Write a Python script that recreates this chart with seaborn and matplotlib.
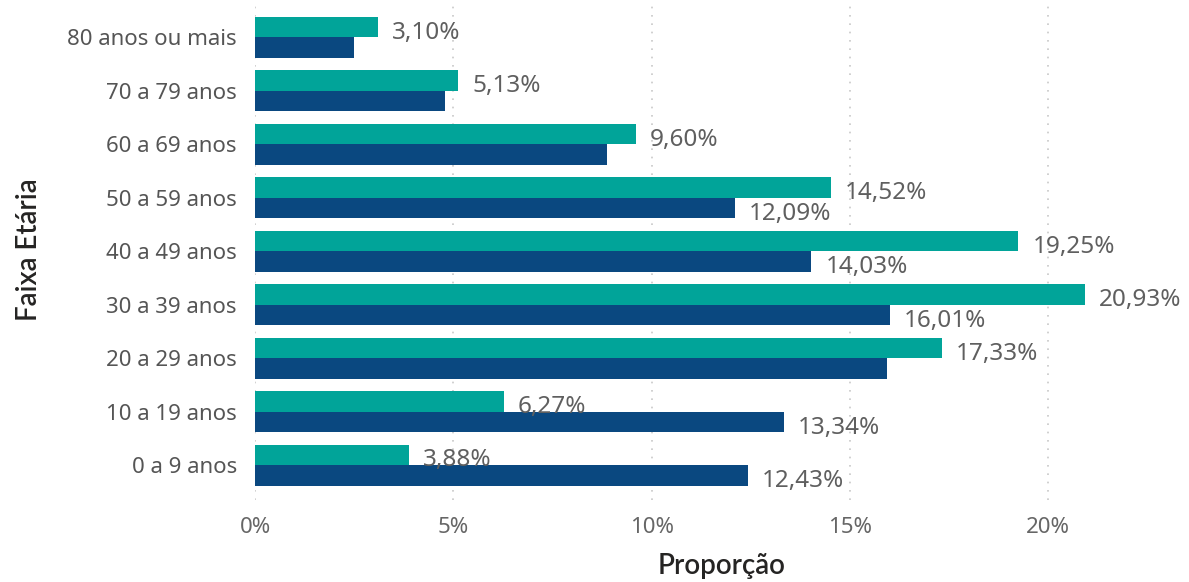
import seaborn as sns
import pandas as pd
import matplotlib.pyplot as plt
import matplotlib.ticker as ticker

# age groups, top to bottom
faixas = ["80 anos ou mais", "70 a 79 anos", "60 a 69 anos", "50 a 59 anos",
          "40 a 49 anos", "30 a 39 anos", "20 a 29 anos", "10 a 19 anos",
          "0 a 9 anos"]
serie_a = [3.10, 5.13, 9.60, 14.52, 19.25, 20.93, 17.33, 6.27, 3.88]
serie_b = [2.49, 4.79, 8.87, 12.09, 14.03, 16.01, 15.94, 13.34, 12.43]
# labels that are actually shown for the second series in the reference
mostra_b = [False, False, False, True, True, True, False, True, True]
x_ticks = [0, 5, 10, 15, 20]

df = pd.concat([
    pd.DataFrame({"faixa": faixas, "prop": serie_a, "serie": "A"}),
    pd.DataFrame({"faixa": faixas, "prop": serie_b, "serie": "B"}),
])

sns.set_style("white")
plt.rcParams["font.family"] = ["Noto Sans", "DejaVu Sans"]

fig = plt.figure(figsize=(11.89, 5.82), dpi=100)
ax = fig.add_axes([0.2145, 0.141, 0.7855, 0.859])

sns.barplot(data=df, y="faixa", x="prop", hue="serie", order=faixas,
            hue_order=["A", "B"], palette=["#01A499", "#0A4880"],
            width=0.77, saturation=1, linewidth=0, legend=False, ax=ax)

def fmt(v):
    return f"{v:.2f}".replace(".", ",") + "%"

for bar, v in zip(ax.containers[0], serie_a):
    ax.annotate(fmt(v), (bar.get_width(), bar.get_y() + bar.get_height() / 2),
                xytext=(10, -4), textcoords="offset points", ha="left",
                va="center", fontsize=17.5, color="#5f5f5f")
for bar, v, ok in zip(ax.containers[1], serie_b, mostra_b):
    if ok:
        ax.annotate(fmt(v), (bar.get_width(), bar.get_y() + bar.get_height() / 2),
                    xytext=(10, -4), textcoords="offset points", ha="left",
                    va="center", fontsize=17.5, color="#5f5f5f")

ax.set_xlim(0, 23.55)
ax.set_ylim(8.65, -0.7)
ax.set_xticks(x_ticks)
ax.xaxis.set_major_formatter(ticker.FuncFormatter(lambda v, p: f"{v:.0f}%"))
ax.grid(axis="x", linestyle=(0, (1, 4)), color="#c8c8c8", linewidth=1.2)
ax.grid(axis="y", visible=False)
ax.set_axisbelow(True)
sns.despine(ax=ax, left=True, bottom=True)
ax.tick_params(axis="x", length=0, pad=12, labelsize=16, labelcolor="#666666")
ax.tick_params(axis="y", length=0, pad=13, labelsize=16, labelcolor="#555555")

ax.set_xlabel("Proporção", fontsize=20, color="#252423", labelpad=11,
              fontfamily="Lato", fontweight="semibold")
ax.set_ylabel("Faixa Etária", fontsize=20, color="#252423", labelpad=18,
              fontfamily="Lato", fontweight="semibold")

plt.savefig("out.png", dpi=100)
